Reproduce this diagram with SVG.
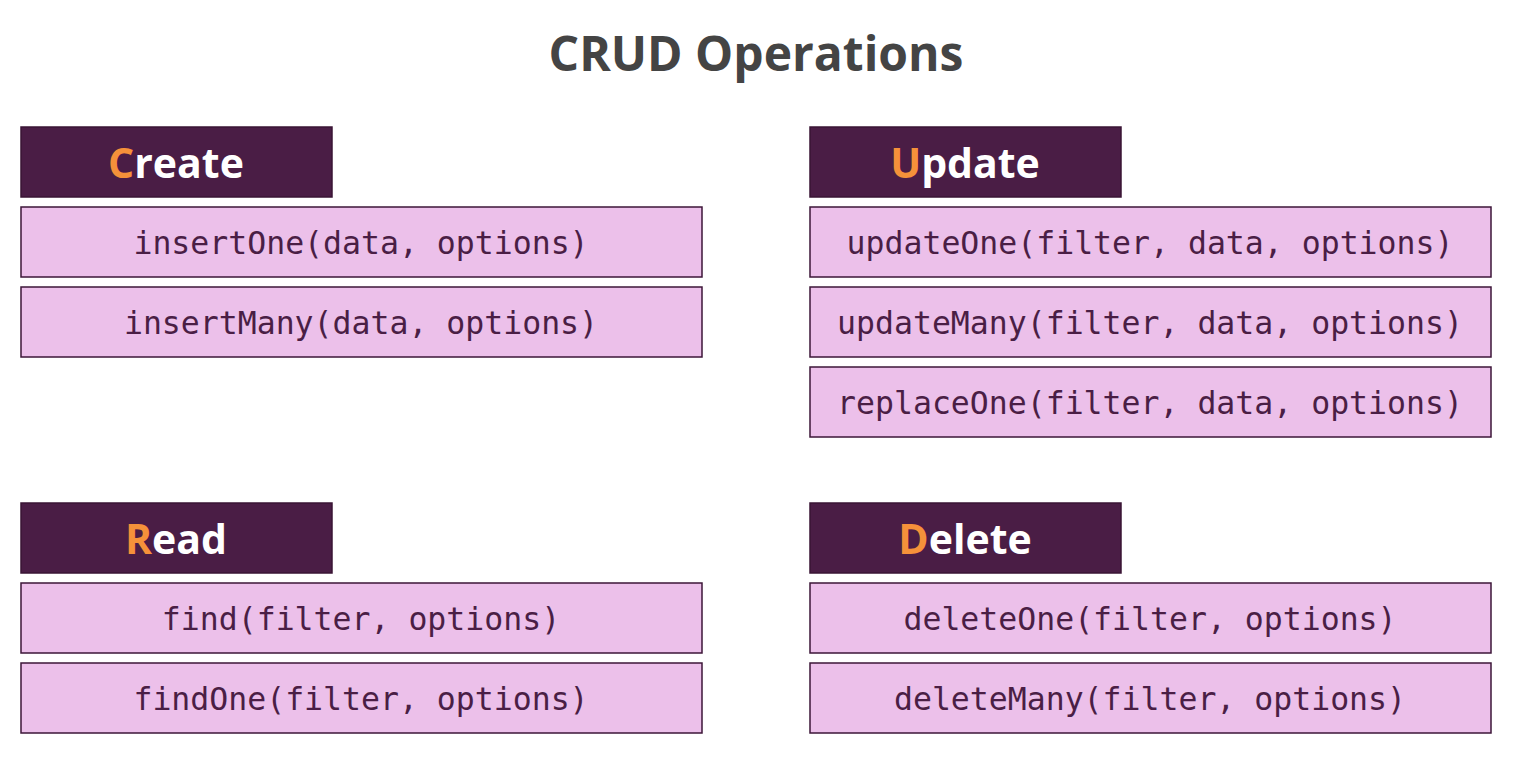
<svg xmlns="http://www.w3.org/2000/svg" width="1519" height="759" viewBox="0 0 1519 759">
<style>
.hdr{fill:#4a1d45;stroke:#3a1535;stroke-width:1.5}
.row{fill:#ecc0ea;stroke:#3d1638;stroke-width:1.5}
.ht{font-family:"Open Sans","Liberation Sans",sans-serif;font-weight:bold;font-size:41px;fill:#ffffff;text-anchor:middle}
.ac{fill:#f5913a}
.mt{font-family:"DejaVu Sans Mono","Liberation Mono",monospace;font-size:31.5px;fill:#4a1e45;text-anchor:middle}
.title{font-family:"Open Sans","Liberation Sans",sans-serif;font-weight:bold;font-size:48px;fill:#444444;text-anchor:middle}
</style>
<rect width="1519" height="759" fill="#ffffff"/>
<text class="title" x="756" y="71">CRUD Operations</text>
<g id="create">
<rect class="hdr" x="21" y="127" width="311" height="70"/>
<text class="ht" x="176" y="178"><tspan class="ac">C</tspan>reate</text>
<rect class="row" x="21" y="207" width="681" height="70"/>
<text class="mt" x="361" y="254">insertOne(data, options)</text>
<rect class="row" x="21" y="287" width="681" height="70"/>
<text class="mt" x="361" y="334">insertMany(data, options)</text>
</g>
<g id="update">
<rect class="hdr" x="810" y="127" width="311" height="70"/>
<text class="ht" x="965" y="178"><tspan class="ac">U</tspan>pdate</text>
<rect class="row" x="810" y="207" width="681" height="70"/>
<text class="mt" x="1150" y="254">updateOne(filter, data, options)</text>
<rect class="row" x="810" y="287" width="681" height="70"/>
<text class="mt" x="1150" y="334">updateMany(filter, data, options)</text>
<rect class="row" x="810" y="367" width="681" height="70"/>
<text class="mt" x="1150" y="414">replaceOne(filter, data, options)</text>
</g>
<g id="read">
<rect class="hdr" x="21" y="503" width="311" height="70"/>
<text class="ht" x="176" y="554"><tspan class="ac">R</tspan>ead</text>
<rect class="row" x="21" y="583" width="681" height="70"/>
<text class="mt" x="361" y="630">find(filter, options)</text>
<rect class="row" x="21" y="663" width="681" height="70"/>
<text class="mt" x="361" y="710">findOne(filter, options)</text>
</g>
<g id="delete">
<rect class="hdr" x="810" y="503" width="311" height="70"/>
<text class="ht" x="965" y="554"><tspan class="ac">D</tspan>elete</text>
<rect class="row" x="810" y="583" width="681" height="70"/>
<text class="mt" x="1150" y="630">deleteOne(filter, options)</text>
<rect class="row" x="810" y="663" width="681" height="70"/>
<text class="mt" x="1150" y="710">deleteMany(filter, options)</text>
</g>
<g id="connectors"/>
</svg>
